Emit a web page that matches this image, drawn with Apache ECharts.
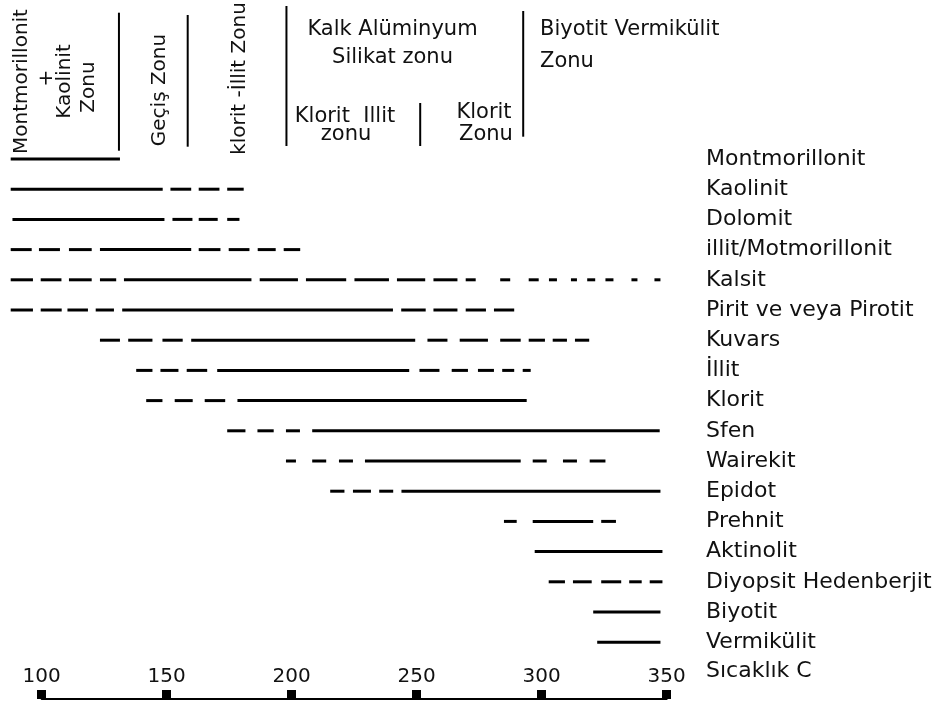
<!DOCTYPE html>
<html><head><meta charset="utf-8">
<script src="https://cdn.jsdelivr.net/npm/echarts@6/dist/echarts.min.js"></script>
<style>html,body{margin:0;padding:0;background:#fff}#c{width:944px;height:704px}</style>
</head><body><div id="c"></div>
<script>
// ---------- DATA ----------
const minerals = ['Montmorillonit','Kaolinit','Dolomit','illit/Motmorillonit','Kalsit','Pirit ve veya Pirotit','Kuvars','İllit','Klorit','Sfen','Wairekit','Epidot','Prehnit','Aktinolit','Diyopsit Hedenberjit','Biyotit','Vermikülit'];
// each [start °C, end °C] is one drawn stroke (long = solid range, short = dash)
const montmorillonit = [[87.6,131.3]];
const kaolinit = [[87.6,148.4],[151.5,159.8],[162.8,171.1],[174.2,180.8]];
const dolomit = [[88.3,149.1],[152.3,160.3],[162.8,170.4],[174.2,179.1]];
const illitMontmorillonit = [[87.6,96],[98.9,107.3],[110.9,120],[123.3,159.8],[162.8,171.5],[174.8,183.1],[186.4,193.6],[196.8,203.4]];
const kalsit = [[87.6,96.5],[99.6,107.9],[110.9,120],[123.3,129.8],[132.9,183.9],[187.2,202.5],[205.7,221.8],[225.1,238.9],[242.1,253.4],[256.7,266.3],[269.6,273.6],[283.4,287.4],[294.8,298.8],[302.9,306.1],[311.7,314.1],[318.2,321.4],[325.5,328.7],[335.9,338.3],[345.1,347.5]];
const pirit = [[87.6,96.5],[99.6,108],[110.3,118.5],[121.6,128.9],[132.2,240.5],[243.8,253.6],[256.7,266.3],[269.6,277.7],[280.9,289]];
const kuvars = [[123.3,131.3],[134.6,144.3],[148.3,156.4],[159.8,249.4],[254.3,262.3],[267.2,278.5],[283.4,291.6],[294.8,301.3],[304.4,310.1],[313.3,319]];
const illit = [[137.8,144.3],[147.5,154.7],[158,166.2],[170.2,247],[251.1,259.1],[264,270.5],[274.5,280.9],[284.2,289],[292.4,295.6]];
const klorit = [[141.8,148.3],[153.2,160.4],[165.2,173.4],[178.3,294]];
const sfen = [[174.2,181.5],[186.3,192.8],[197.7,203.3],[208.2,347.2]];
const wairekit = [[197.7,201.7],[208.2,213.8],[218.9,224.5],[229.3,291.6],[296.4,302],[308.5,314.1],[319.2,325.5]];
const epidot = [[215.4,221.1],[224.5,231.7],[235,240.6],[243.9,347.5]];
const prehnit = [[284.9,290],[296.4,320.6],[323.8,329.7]];
const aktinolit = [[297.2,348.3]];
const diyopsit = [[302.8,309.3],[312.5,320],[323.8,331.8],[335,340],[343.2,348.3]];
const biyotit = [[320.6,347.5]];
const vermikulit = [[322.2,347.5]];
const segmentsByMineral = [montmorillonit,kaolinit,dolomit,illitMontmorillonit,kalsit,pirit,kuvars,illit,klorit,sfen,wairekit,epidot,prehnit,aktinolit,diyopsit,biyotit,vermikulit];

const axisTicks = [100,150,200,250,300,350];
const axisName = 'Sıcaklık C';
const zoneBounds = [130.9,158.4,197.9,251.4,292.6];

// ---------- LAYOUT ----------
const FONT = '"DejaVu Sans", sans-serif';
const INK = '#111';
const PX_PER_DEG = 2.5;
const AXIS_LEFT = 41.7;
const AXIS_END_X = AXIS_LEFT + (axisTicks[axisTicks.length-1]-axisTicks[0])*PX_PER_DEG;
const AXIS_RIGHT = 944 - AXIS_END_X;
const DATA_MIN = 86;
const DATA_LEFT = AXIS_LEFT - (axisTicks[0]-DATA_MIN)*PX_PER_DEG;
const LABEL_GAP = 39.3;
const zoneLineTop = [12.7,15,6,103,11];
const zoneLineBottom = [150.7,146.7,146,146,136.7];

const segData = [];
segmentsByMineral.forEach((segs, i) => segs.forEach(s => segData.push([s[0], s[1], i])));

const chart = echarts.init(document.getElementById('c'), null, {renderer:'canvas'});

const headerTexts = [
  {t:'Montmorillonit', x:21.7, y:81.5, r:true},
  {t:'+', x:47, y:78, r:true},
  {t:'Kaolinit', x:65, y:81.5, r:true},
  {t:'Zonu', x:89, y:87, r:true},
  {t:'Geçiş Zonu', x:160, y:90, r:true},
  {t:'klorit -İllit Zonu', x:240, y:78.5, r:true},
  {t:'Kalk Alüminyum', x:392.5, y:30},
  {t:'Silikat zonu', x:392.5, y:58},
  {t:'Biyotit Vermikülit', x:540, y:30, left:true},
  {t:'Zonu', x:540, y:62, left:true},
  {t:'Klorit  Illit', x:345, y:116.7},
  {t:'zonu', x:346, y:135},
  {t:'Klorit', x:484, y:113},
  {t:'Zonu', x:486, y:135}
];

chart.setOption({
  animation:false,
  backgroundColor:'#fff',
  grid:[
    {left:DATA_LEFT, right:AXIS_RIGHT, top:143.9, bottom:46.7, outerBoundsMode:'none', containLabel:false},
    {left:AXIS_LEFT, right:AXIS_RIGHT, top:600, bottom:5, outerBoundsMode:'none', containLabel:false}
  ],
  xAxis:[
    {gridIndex:0, type:'value', min:DATA_MIN, max:axisTicks[axisTicks.length-1], show:false},
    {gridIndex:1, type:'value', min:axisTicks[0], max:axisTicks[axisTicks.length-1], interval:axisTicks[1]-axisTicks[0],
     axisLine:{show:true, lineStyle:{color:'#000', width:2}},
     axisTick:{show:true, inside:true, length:9, lineStyle:{color:'#000', width:9}},
     axisLabel:{show:true, inside:true, margin:12, fontSize:20, color:INK, fontFamily:FONT, showMinLabel:true, showMaxLabel:true},
     splitLine:{show:false}
    }
  ],
  yAxis:[
    {gridIndex:0, type:'category', data:minerals, inverse:true, position:'right',
     axisLine:{show:false}, axisTick:{show:false}, splitLine:{show:false},
     axisLabel:{margin:LABEL_GAP, fontSize:22, color:INK, fontFamily:FONT, align:'left', verticalAlign:'middle', padding:[0,0,10,0]}},
    {gridIndex:1, type:'value', show:false}
  ],
  series:[{
    type:'custom', xAxisIndex:0, yAxisIndex:0, data:segData,
    encode:{x:[0,1], y:2},
    renderItem:function(params, api){
      const a = api.coord([api.value(0), api.value(2)]);
      const b = api.coord([api.value(1), api.value(2)]);
      return {type:'line', shape:{x1:a[0], y1:a[1], x2:b[0], y2:b[1]}, style:{stroke:'#000', lineWidth:3, lineCap:'butt'}};
    }
  }]
});

const graphics = [];
zoneBounds.forEach((t, i) => {
  const x = chart.convertToPixel({xAxisIndex:0}, t);
  graphics.push({type:'line', shape:{x1:x, y1:zoneLineTop[i], x2:x, y2:zoneLineBottom[i]}, style:{stroke:'#000', lineWidth:2}});
});
headerTexts.forEach(h => {
  graphics.push({type:'text', x:h.x, y:h.y, rotation:h.r ? Math.PI/2 : 0,
    style:{text:h.t, fontSize:h.r ? 20 : 21, fontFamily:FONT, fill:INK, align:h.left ? 'left' : 'center', verticalAlign:'middle'}});
});
// axis name placed in the label column, level with the tick labels
graphics.push({type:'text', x:AXIS_END_X + LABEL_GAP, y:671.7,
  style:{text:axisName, fontSize:22, fontFamily:FONT, fill:INK, align:'left', verticalAlign:'middle'}});
chart.setOption({graphic:graphics});
</script>
</body></html>
